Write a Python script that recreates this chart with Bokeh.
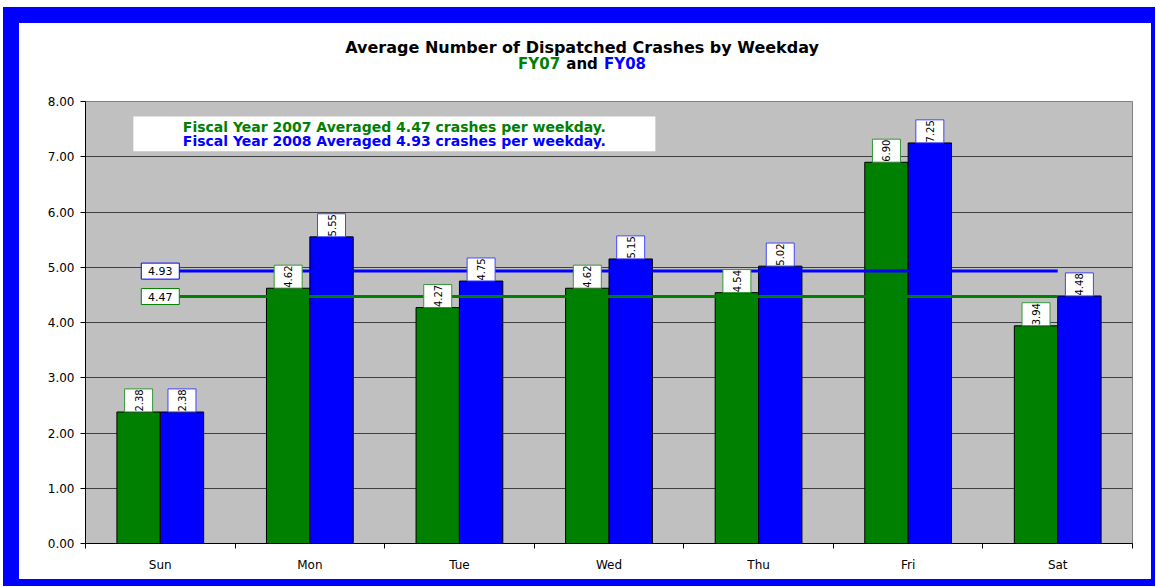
import numpy as np
from bokeh.plotting import figure
from bokeh.models import Range1d, FixedTicker, NumeralTickFormatter, Label, BoxAnnotation
from bokeh.layouts import column
from bokeh.embed import file_html
from bokeh.resources import INLINE
from bokeh.core.properties import value

# ---------------- data ----------------
days = ["Sun", "Mon", "Tue", "Wed", "Thu", "Fri", "Sat"]
fy07 = [2.38, 4.62, 4.27, 4.62, 4.54, 6.90, 3.94]
fy08 = [2.38, 5.55, 4.75, 5.15, 5.02, 7.25, 4.48]
avg07 = 4.47
avg08 = 4.93
y_ticks = [0, 1, 2, 3, 4, 5, 6, 7, 8]
title_line1 = "Average Number of Dispatched Crashes by Weekday"
title_parts = ["FY07", "and", "FY08"]
note07 = "Fiscal Year 2007 Averaged 4.47 crashes per weekday."
note08 = "Fiscal Year 2008 Averaged 4.93 crashes per weekday."

GREEN = "#008000"
BLUE = "#0000FF"
FONT = "DejaVu Sans"

W = 1132

# ---------------- title figure (frame is aligned with the main plot's frame) ----------------
t = figure(width=W, height=50, output_backend="svg", toolbar_location=None,
           x_range=Range1d(0, len(days)), y_range=Range1d(0, 50),
           x_axis_location=None, y_axis_location=None,
           min_border=0, min_border_left=0, min_border_right=0, min_border_top=0, min_border_bottom=0)
t.outline_line_color = None
t.grid.grid_line_color = None
t.background_fill_color = "white"
t.border_fill_color = "white"
tx = 3.32
t.text(x=[tx], y=[26], text=[title_line1], text_align="center", text_baseline="middle",
       text_font=value(FONT), text_font_style="bold", text_font_size="16px", text_color="black")
t.text(x=[tx], y=[10], x_offset=-22, text=[title_parts[0]], text_align="right", text_baseline="middle",
       text_font=value(FONT), text_font_style="bold", text_font_size="15px", text_color=GREEN)
t.text(x=[tx], y=[10], text=[title_parts[1]], text_align="center", text_baseline="middle",
       text_font=value(FONT), text_font_style="bold", text_font_size="15px", text_color="black")
t.text(x=[tx], y=[10], x_offset=22, text=[title_parts[2]], text_align="left", text_baseline="middle",
       text_font=value(FONT), text_font_style="bold", text_font_size="15px", text_color=BLUE)

# ---------------- main figure ----------------
p = figure(width=W, height=506, output_backend="svg", toolbar_location=None,
           x_range=Range1d(0, len(days)), y_range=Range1d(y_ticks[0], y_ticks[-1]),
           min_border_left=66, min_border_right=19, min_border_top=28, min_border_bottom=36)
p.background_fill_color = "#C0C0C0"
p.border_fill_color = "white"
p.outline_line_color = "#808080"

p.xgrid.grid_line_color = None
p.ygrid.grid_line_color = "#404040"
p.ygrid.grid_line_width = 1

centers = np.arange(len(days)) + 0.5
bw = 0.29

# y axis
p.yaxis.ticker = FixedTicker(ticks=y_ticks)
p.yaxis.formatter = NumeralTickFormatter(format="0.00")
p.yaxis.major_tick_out = 5
p.yaxis.major_tick_in = 0
p.yaxis.minor_tick_line_color = None
p.yaxis.major_label_standoff = 6
p.yaxis.axis_line_color = "black"
p.yaxis.major_label_text_font = FONT
p.yaxis.major_label_text_font_size = "12px"
p.yaxis.major_label_text_color = "black"

# x axis: labels at centers, tick marks at category boundaries
p.xaxis.ticker = FixedTicker(ticks=list(centers), minor_ticks=list(range(len(days) + 1)))
p.xaxis.major_label_overrides = {float(c): d for c, d in zip(centers, days)}
p.xaxis.major_tick_line_color = None
p.xaxis.minor_tick_out = 5
p.xaxis.minor_tick_in = 0
p.xaxis.minor_tick_line_color = "black"
p.xaxis.axis_line_color = "black"
p.xaxis.major_label_standoff = 8
p.xaxis.major_label_text_font = FONT
p.xaxis.major_label_text_font_size = "12px"
p.xaxis.major_label_text_color = "black"

# bars
p.vbar(x=centers - bw / 2, top=fy07, width=bw, bottom=0,
       fill_color=GREEN, line_color="black", line_width=1)
p.vbar(x=centers + bw / 2, top=fy08, width=bw, bottom=0,
       fill_color=BLUE, line_color="black", line_width=1)

# average lines
p.line(x=[centers[0], centers[-1]], y=[avg07, avg07], line_color=GREEN, line_width=3)
p.line(x=[centers[0], centers[-1]], y=[avg08, avg08], line_color=BLUE, line_width=3)

# data labels (boxes above bars, rotated text)
lab_off = 0.21
for xs, vals, col in [(centers - bw / 2, fy07, "#339933"), (centers + bw / 2, fy08, "#4444FF")]:
    ys = [v + lab_off for v in vals]
    p.rect(x=xs, y=ys, width=28, height=23, width_units="screen", height_units="screen",
           fill_color="white", line_color=col, line_width=1)
    p.text(x=xs, y=ys, text=[f"{v:.2f}" for v in vals], angle=np.pi / 2,
           text_align="center", text_baseline="middle", text_font=value(FONT),
           text_font_size="10px", text_color="black")

# average value labels
for av, col in [(avg07, GREEN), (avg08, BLUE)]:
    p.rect(x=[centers[0]], y=[av], width=38, height=16, width_units="screen", height_units="screen",
           fill_color="white", line_color=col, line_width=1)
    p.text(x=[centers[0]], y=[av], text=[f"{av:.2f}"], text_align="center", text_baseline="middle",
           text_font=value(FONT), text_font_size="11px", text_color="black")

# note box
p.add_layout(BoxAnnotation(left=0.32, right=3.81, top=7.73, bottom=7.10,
                           fill_color="white", fill_alpha=1.0, line_color=None))
p.add_layout(Label(x=2.065, y=7.54, text=note07, text_align="center", text_baseline="middle",
                   text_font=FONT, text_font_style="bold", text_font_size="14px", text_color=GREEN))
p.add_layout(Label(x=2.065, y=7.28, text=note08, text_align="center", text_baseline="middle",
                   text_font=FONT, text_font_style="bold", text_font_size="14px", text_color=BLUE))

inner = column(t, p, spacing=0, styles={"background-color": "white"})
layout = column(inner, styles={"background-color": BLUE, "padding": "16px 4px 7px 16px",
                               "margin-left": "3px", "margin-top": "7px"})

open("out.html", "w").write(file_html(layout, INLINE))
